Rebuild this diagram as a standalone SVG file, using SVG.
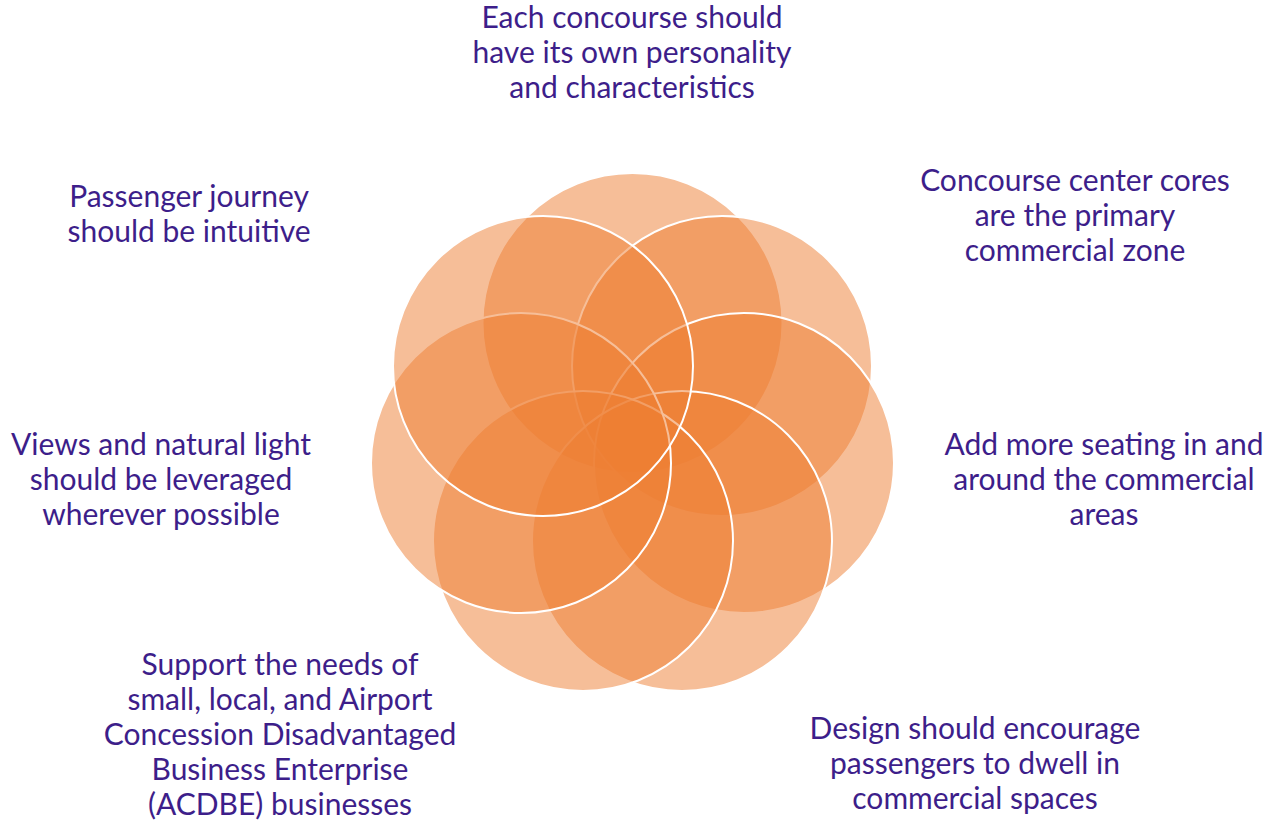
<svg xmlns="http://www.w3.org/2000/svg" width="1267" height="820" viewBox="0 0 1267 820">
  <style>
    .petal { fill: #ED7D31; fill-opacity: 0.5; stroke: #FFFFFF; stroke-width: 2; }
    .lbl { font-family: Lato, "Liberation Sans", sans-serif; font-size: 30px; fill: #3D1E8A; text-anchor: middle; }
  </style>
  <rect width="1267" height="820" fill="#FFFFFF"/>
  <g id="circles">
    <circle id="c1" class="petal" cx="632.5" cy="323" r="150"/>
    <circle id="c2" class="petal" cx="722" cy="366" r="150"/>
    <circle id="c3" class="petal" cx="744" cy="463" r="150"/>
    <circle id="c4" class="petal" cx="682" cy="541" r="150"/>
    <circle id="c5" class="petal" cx="583" cy="541" r="150"/>
    <circle id="c6" class="petal" cx="521" cy="463" r="150"/>
    <circle id="c7" class="petal" cx="543" cy="366" r="150"/>
  </g>
  <g id="connectors"></g>
  <g id="label-top">
    <text class="lbl" x="632" y="28">Each concourse should</text>
    <text class="lbl" x="632" y="63">have its own personality</text>
    <text class="lbl" x="632" y="98">and characteristics</text>
  </g>
  <g id="label-upper-right">
    <text class="lbl" x="1075" y="191">Concourse center cores</text>
    <text class="lbl" x="1075" y="226">are the primary</text>
    <text class="lbl" x="1075" y="261">commercial zone</text>
  </g>
  <g id="label-right">
    <text class="lbl" x="1104" y="455">Add more seating in and</text>
    <text class="lbl" x="1104" y="490">around the commercial</text>
    <text class="lbl" x="1104" y="525">areas</text>
  </g>
  <g id="label-lower-right">
    <text class="lbl" x="975" y="739">Design should encourage</text>
    <text class="lbl" x="975" y="774">passengers to dwell in</text>
    <text class="lbl" x="975" y="809">commercial spaces</text>
  </g>
  <g id="label-lower-left">
    <text class="lbl" x="280" y="675">Support the needs of</text>
    <text class="lbl" x="280" y="710">small, local, and Airport</text>
    <text class="lbl" x="280" y="745">Concession Disadvantaged</text>
    <text class="lbl" x="280" y="780">Business Enterprise</text>
    <text class="lbl" x="280" y="815">(ACDBE) businesses</text>
  </g>
  <g id="label-left">
    <text class="lbl" x="161" y="455">Views and natural light</text>
    <text class="lbl" x="161" y="490">should be leveraged</text>
    <text class="lbl" x="161" y="525">wherever possible</text>
  </g>
  <g id="label-upper-left">
    <text class="lbl" x="189" y="207">Passenger journey</text>
    <text class="lbl" x="189" y="242">should be intuitive</text>
  </g>
</svg>
